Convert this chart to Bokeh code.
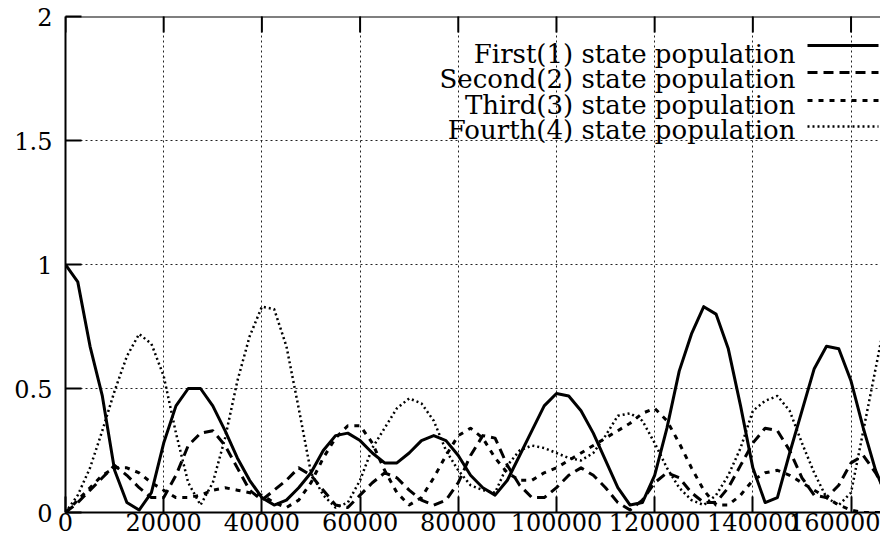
import math
from bokeh.plotting import figure
from bokeh.models import Range1d, FixedTicker, Label, Arrow, BasicTickFormatter, Span
from bokeh.embed import file_html
from bokeh.resources import INLINE

# sample positions (time axis)
time = list(range(0, 170000, 2500))

first = [1.00, 0.93, 0.67, 0.47, 0.17, 0.04, 0.01, 0.08, 0.28, 0.43,
         0.50, 0.50, 0.43, 0.33, 0.22, 0.13, 0.06, 0.03, 0.05, 0.10,
         0.16, 0.25, 0.31, 0.32, 0.29, 0.24, 0.20, 0.20, 0.24, 0.29,
         0.31, 0.29, 0.23, 0.15, 0.10, 0.07, 0.13, 0.23, 0.33, 0.43,
         0.48, 0.47, 0.41, 0.32, 0.21, 0.10, 0.03, 0.04, 0.15, 0.34,
         0.57, 0.72, 0.83, 0.80, 0.66, 0.43, 0.18, 0.04, 0.06, 0.24,
         0.41, 0.58, 0.67, 0.66, 0.53, 0.34, 0.17, 0.05]

second = [0.00, 0.04, 0.09, 0.14, 0.19, 0.15, 0.10, 0.06, 0.06, 0.15,
          0.27, 0.32, 0.33, 0.27, 0.18, 0.09, 0.05, 0.09, 0.13, 0.18,
          0.15, 0.09, 0.03, 0.02, 0.07, 0.12, 0.16, 0.14, 0.09, 0.05,
          0.03, 0.05, 0.12, 0.23, 0.31, 0.30, 0.19, 0.11, 0.06, 0.06,
          0.10, 0.15, 0.18, 0.15, 0.10, 0.04, 0.01, 0.05, 0.12, 0.16,
          0.14, 0.08, 0.04, 0.04, 0.10, 0.19, 0.28, 0.34, 0.33, 0.25,
          0.14, 0.07, 0.06, 0.11, 0.20, 0.23, 0.16, 0.07]

third = [0.00, 0.05, 0.10, 0.15, 0.18, 0.18, 0.16, 0.12, 0.09, 0.06,
         0.06, 0.07, 0.09, 0.10, 0.09, 0.08, 0.07, 0.04, 0.02, 0.05,
         0.12, 0.22, 0.30, 0.35, 0.35, 0.28, 0.17, 0.08, 0.03, 0.06,
         0.14, 0.23, 0.31, 0.34, 0.30, 0.22, 0.16, 0.13, 0.13, 0.16,
         0.18, 0.21, 0.24, 0.27, 0.30, 0.33, 0.36, 0.40, 0.42, 0.37,
         0.28, 0.18, 0.09, 0.03, 0.03, 0.07, 0.13, 0.16, 0.17, 0.15,
         0.12, 0.09, 0.06, 0.03, 0.01, 0.00, 0.00, 0.00]

fourth = [0.00, 0.07, 0.18, 0.33, 0.49, 0.63, 0.72, 0.68, 0.55, 0.32,
          0.12, 0.03, 0.12, 0.30, 0.53, 0.71, 0.83, 0.82, 0.67, 0.42,
          0.16, 0.07, 0.02, 0.04, 0.13, 0.26, 0.34, 0.42, 0.46, 0.44,
          0.37, 0.25, 0.17, 0.11, 0.09, 0.08, 0.19, 0.25, 0.27, 0.26,
          0.24, 0.22, 0.21, 0.24, 0.31, 0.39, 0.40, 0.37, 0.28, 0.18,
          0.10, 0.05, 0.03, 0.07, 0.15, 0.26, 0.41, 0.45, 0.47, 0.41,
          0.28, 0.16, 0.06, 0.03, 0.08, 0.33, 0.58, 0.83]

series_labels = ["First(1) state population", "Second(2) state population",
                 "Third(3) state population", "Fourth(4) state population"]
x_ticks = [0, 20000, 40000, 60000, 80000, 100000, 120000, 140000, 160000]
y_ticks = [0, 0.5, 1, 1.5, 2]
y_tick_labels = {0: "0", 0.5: "0.5", 1: "1", 1.5: "1.5", 2: "2"}

FONT = "DejaVu Serif"
W, H = 880, 540
X_MAX, Y_MAX = 166000, 2

p = figure(width=W, height=H, output_backend="svg", toolbar_location=None,
           x_range=Range1d(0, X_MAX), y_range=Range1d(0, Y_MAX),
           min_border_left=65, min_border_top=16, min_border_right=0,
           min_border_bottom=28)
p.outline_line_color = None
p.background_fill_color = "white"
p.border_fill_color = "white"

for ax, ticks in ((p.xaxis[0], x_ticks), (p.yaxis[0], y_ticks)):
    ax.ticker = FixedTicker(ticks=ticks)
    ax.minor_tick_line_color = None
    ax.major_tick_in = 16
    ax.major_tick_out = 0
    ax.major_tick_line_width = 2
    ax.major_tick_line_color = "black"
    ax.axis_line_width = 2
    ax.axis_line_color = "black"
    ax.major_label_text_font = FONT
    ax.major_label_text_font_size = "24px"
    ax.major_label_text_color = "black"

p.xaxis[0].formatter = BasicTickFormatter(use_scientific=False)
p.xaxis[0].major_label_standoff = 0
p.yaxis[0].major_label_overrides = y_tick_labels
p.yaxis[0].major_label_standoff = 13

for g, ticks in ((p.xgrid[0], x_ticks), (p.ygrid[0], y_ticks)):
    g.ticker = FixedTicker(ticks=ticks)
    g.grid_line_color = "#222222"
    g.grid_line_width = 1
    g.grid_line_dash = "2 3"

# top border with inward ticks (mirror of the bottom axis)
p.add_layout(Span(location=Y_MAX, dimension="width", line_color="black", line_width=2))
p.scatter(x_ticks, [Y_MAX] * len(x_ticks), marker="dash", angle=math.pi / 2,
          size=32, line_color="black", line_width=2)

styles = [
    dict(line_width=3, line_dash="solid"),
    dict(line_width=3, line_dash="10 6"),
    dict(line_width=3, line_dash="5 6"),
    dict(line_width=2.5, line_dash="2 3"),
]
for ys, st in zip([fourth, third, second, first], styles[::-1]):
    p.line(time, ys, line_color="black", line_join="round", **st)

# legend (text on the left, sample on the right), frame-relative pixels
frame_h = 496
text_base = [37, 62.5, 88, 113]
line_off = [29, 56, 84, 110]
for lab, st, tb, lo in zip(series_labels, styles, text_base, line_off):
    p.add_layout(Label(x=730, y=frame_h - tb, x_units="screen", y_units="screen",
                       text=lab, text_align="right", text_baseline="alphabetic",
                       text_font=FONT, text_font_size="26px", text_color="black"))
    p.add_layout(Arrow(end=None, x_start=742, y_start=frame_h - lo,
                       x_end=813, y_end=frame_h - lo,
                       start_units="screen", end_units="screen",
                       line_color="black", **st))

open("out.html", "w").write(file_html(p, INLINE))
